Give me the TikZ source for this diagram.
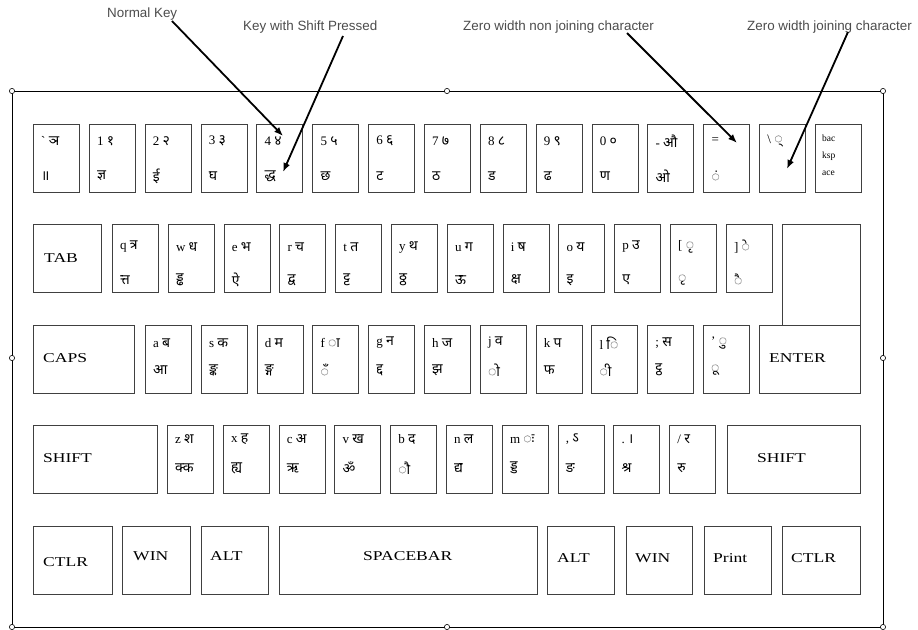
\documentclass[tikz,border=0pt]{standalone}
\usepackage{fontspec}
\setmainfont{Liberation Serif}
\newfontfamily\notefont{Liberation Sans}
\newfontfamily\widefont[FakeStretch=1.3]{Liberation Serif}
\newfontfamily\deva[Script=Devanagari]{Noto Sans}
\usetikzlibrary{arrows.meta}
\newcommand{\dv}[1]{{\deva\fontsize{14}{16}\selectfont #1}}

\begin{document}
\begin{tikzpicture}[x=1pt, y=-1pt,
    keycap/.style={draw=black!75, line width=0.7pt, anchor=north west,
      inner sep=0pt, minimum width=46, minimum height=67.5},
    keytxt/.style={anchor=west, inner sep=0pt, font=\fontsize{13}{15}\selectfont},
    bigtxt/.style={anchor=west, inner sep=0pt, font=\widefont\fontsize{13.5}{15}\selectfont},
    note/.style={anchor=base west, inner sep=0pt, text=black!70,
      font=\notefont\fontsize{13.4}{16}\selectfont},
    pointer/.style={-{Latex[length=9pt,width=7pt]}, line width=1.8pt},
    handle/.style={draw, fill=white, line width=0.6pt}]
  \useasboundingbox (0,0) rectangle (918,629);
  % selection frame
  \draw[line width=0.8pt] (12,91) rectangle (883,627);
  \foreach \hx/\hy in {12/91, 447/91, 883/91, 12/358, 883/358, 12/627, 447/627, 883/627}
    \draw[handle] (\hx,\hy) circle (2.6pt);
  % captions
  \node[note] (nk) at (107,17.5) {Normal Key};
  \node[note] (sk) at (243,30.5) {Key with Shift Pressed};
  \node[note] (zwnj) at (463,30.5) {Zero width non joining character};
  \node[note] (zwj) at (747,30.5) {Zero width joining character};
  % number row
  \foreach \a/\b/\c [count=\i] in {\textasciigrave/ञ/॥, 1/१/ज्ञ, 2/२/ई, 3/३/घ, 4/४/द्ध,
      5/५/छ, 6/६/ट, 7/७/ठ, 8/८/ड, 9/९/ढ, 0/०/ण, -/औ/ओ, =/{}/◌ं, \textbackslash/◌्/{}} {
    \node[keycap] (k1-\i) at ({33+55.86*(\i-1)},124) {};
    \node[keytxt] (t1-\i) at ([shift={(8,17)}]k1-\i.north west) {\a\ \dv{\b}};
    \node[keytxt] (b1-\i) at ([shift={(8,52)}]k1-\i.north west) {\dv{\c}};
  }
  \node[keycap] (bksp) at (815,124) {};
  \node[anchor=west, inner sep=0pt, align=left, font=\fontsize{9.5}{17}\selectfont]
    (bksp-t) at ([shift={(7,31)}]bksp.north west) {bac\\ksp\\ace};
  % top letter row
  \node[keycap, minimum width=68] (tab) at (33,224) {};
  \node[bigtxt] (tab-t) at ([shift={(11,34)}]tab.north west) {TAB};
  \foreach \a/\b/\c [count=\i] in {q/त्र/त्त, w/ध/ड्ढ, e/भ/ऐ, r/च/द्व, t/त/ट्ट, y/थ/ठ्ठ,
      u/ग/ऊ, i/ष/क्ष, o/य/इ, p/उ/ए, {[}/◌ृ/◌ृ, {]}/◌े/◌ै} {
    \node[keycap] (k2-\i) at ({112+55.8*(\i-1)},224) {};
    \node[keytxt] (t2-\i) at ([shift={(8,23)}]k2-\i.north west) {\a\ \dv{\b}};
    \node[keytxt] (b2-\i) at ([shift={(8,56)}]k2-\i.north west) {\dv{\c}};
  }
  \node[keycap, minimum width=78, minimum height=101] (entup) at (782,224) {};
  % home row
  \node[keycap, minimum width=101] (caps) at (33,325) {};
  \node[bigtxt] (caps-t) at ([shift={(10,33)}]caps.north west) {CAPS};
  \foreach \a/\b/\c [count=\i] in {a/ब/आ, s/क/ङ्क, d/म/ङ्ग, f/◌ा/◌ँ, g/न/द्द, h/ज/झ,
      j/व/◌ो, k/प/फ, l/◌ि/◌ी, ;/स/ट्ठ, '/◌ु/◌ू} {
    \node[keycap] (k3-\i) at ({145+55.8*(\i-1)},325) {};
    \node[keytxt] (t3-\i) at ([shift={(8,18)}]k3-\i.north west) {\a\ \dv{\b}};
    \node[keytxt] (b3-\i) at ([shift={(8,45)}]k3-\i.north west) {\dv{\c}};
  }
  \node[keycap, minimum width=101] (enter) at (759,325) {};
  \node[bigtxt] (enter-t) at ([shift={(10,33)}]enter.north west) {ENTER};
  % bottom letter row
  \node[keycap, minimum width=124] (lshift) at (33,425) {};
  \node[bigtxt] (lshift-t) at ([shift={(10,33)}]lshift.north west) {SHIFT};
  \foreach \a/\b/\c [count=\i] in {z/श/क्क, x/ह/ह्य, c/अ/ऋ, v/ख/ॐ, b/द/◌ौ, n/ल/द्य,
      m/◌ः/ड्ड, {,}/ऽ/ङ, ./।/श्र, {/}/र/रु} {
    \node[keycap] (k4-\i) at ({167+55.8*(\i-1)},425) {};
    \node[keytxt] (t4-\i) at ([shift={(8,14)}]k4-\i.north west) {\a\ \dv{\b}};
    \node[keytxt] (b4-\i) at ([shift={(8,43)}]k4-\i.north west) {\dv{\c}};
  }
  \node[keycap, minimum width=133] (rshift) at (727,425) {};
  \node[bigtxt] (rshift-t) at ([shift={(30,33)}]rshift.north west) {SHIFT};
  % space row
  \foreach \nm/\x/\w/\lbl/\dx/\dy in {lctl/33/79/CTLR/10/36, lwin/122/68/WIN/11/30,
      lalt/201/67/ALT/9/30, space/279/258/SPACEBAR/84/30, ralt/547/67/ALT/10/32,
      rwin/626/66/WIN/9/32, print/704/67/Print/9/32, rctl/782/78/CTLR/9/32} {
    \node[keycap, minimum width=\w] (\nm) at (\x,526) {};
    \node[bigtxt] (\nm-t) at ([shift={(\dx,\dy)}]\nm.north west) {\lbl};
  }
  % pointers
  \draw[pointer] ([shift={(65,3.5)}]nk.base west) -- ([shift={(26.6,12)}]k1-5.north west);
  \draw[pointer] ([shift={(100,5.5)}]sk.base west) -- ([shift={(26.6,48)}]k1-5.north west);
  \draw[pointer] ([shift={(164,2.5)}]zwnj.base west) -- ([shift={(33.7,19)}]k1-13.north west);
  \draw[pointer] ([shift={(101,1.5)}]zwj.base west) -- ([shift={(27.8,45)}]k1-14.north west);
\end{tikzpicture}
\end{document}
